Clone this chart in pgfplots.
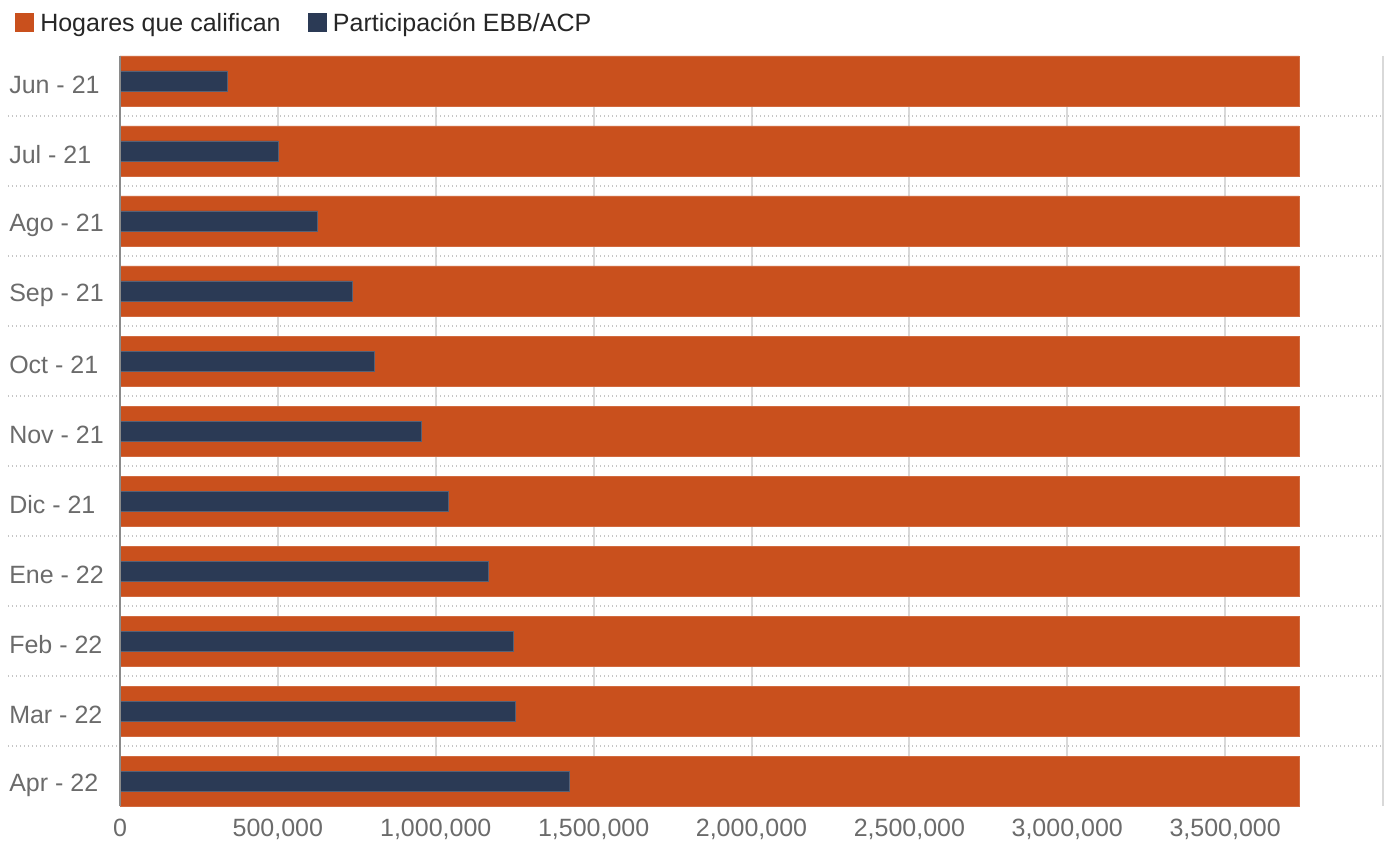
\documentclass[border=0pt]{standalone}
\usepackage{pgfplots}
\pgfplotsset{compat=1.18}
\usepackage{fontspec}
\setmainfont{Liberation Sans}
\definecolor{orangebar}{HTML}{C9501D}
\definecolor{navybar}{HTML}{2B3A55}
\definecolor{ticktext}{HTML}{6B6B6B}
\definecolor{gridc}{HTML}{D9D9D9}
\definecolor{axisc}{HTML}{8A8A8A}
\begin{document}
\begin{tikzpicture}[font=\fontsize{18.75pt}{22pt}\selectfont]
\useasboundingbox (-90pt,-30pt) rectangle (951pt,604.5pt);
\begin{axis}[
  at={(0,0)}, anchor=south west,
  scale only axis, width=947.25pt, height=562.5pt,
  xbar, bar shift=0pt,
  y dir=reverse,
  xmin=0, xmax=4000000,
  ymin=-0.357, ymax=10.357,
  xtick={0,500000,1000000,1500000,2000000,2500000,3000000,3500000},
  extra x ticks={4000000}, extra x tick labels={},
  extra x tick style={grid=major},
  scaled x ticks=false,
  /pgf/number format/.cd, fixed, 1000 sep={,}, assume math mode=true,
  /pgfplots/.cd,
  xmajorgrids, ymajorgrids=false,
  major grid style={draw=gridc, line width=1.5pt},
  major tick length=0pt,
  ytick={0,...,10},
  yticklabels={Jun - 21,Jul - 21,Ago - 21,Sep - 21,Oct - 21,Nov - 21,Dic - 21,Ene - 22,Feb - 22,Mar - 22,Apr - 22},
  yticklabel style={anchor=west, xshift=-83.25pt, yshift=-3pt, inner sep=0pt, text=ticktext},
  xticklabel style={text=ticktext, yshift=-6.5pt},
  axis x line*=bottom,
  x axis line style={draw=none},
  axis y line*=left,
  y axis line style={draw=axisc, line width=1.5pt, -},
  axis on top=false,
  clip=false,
]
\addplot[fill=orangebar, draw=orangebar!85!white, bar width=37.5pt] coordinates {
  (3734000,0) (3734000,1) (3734000,2) (3734000,3) (3734000,4) (3734000,5)
  (3734000,6) (3734000,7) (3734000,8) (3734000,9) (3734000,10)};
\addplot[fill=navybar, draw=navybar!80!white, bar width=15pt] coordinates {
  (339000,0) (500000,1) (626000,2) (735000,3) (804000,4) (953000,5)
  (1039000,6) (1165000,7) (1245000,8) (1251000,9) (1422000,10)};
\pgfplotsinvokeforeach{0.5,1.5,2.5,3.5,4.5,5.5,6.5,7.5,8.5,9.5}{
  \draw[draw=gray!45, line width=1pt, dotted] ([xshift=-84pt]axis cs:0,#1) -- ([xshift=-1.5pt]axis cs:4000000,#1);
}
\draw[draw=axisc, line width=1.5pt] (axis cs:0,-0.357) -- (axis cs:0,10.357);
\end{axis}
% legend
\fill[orangebar] (-79.1pt,580.65pt) rectangle (-64.7pt,595.05pt);
\node[anchor=base west, inner sep=0pt, text=black!85] at (-60pt,580.65pt) {Hogares que califican};
\fill[navybar] (140.8pt,580.65pt) rectangle (155.2pt,595.05pt);
\node[anchor=base west, inner sep=0pt, text=black!85] at (159.5pt,580.65pt) {Participación EBB/ACP};
\end{tikzpicture}
\end{document}
